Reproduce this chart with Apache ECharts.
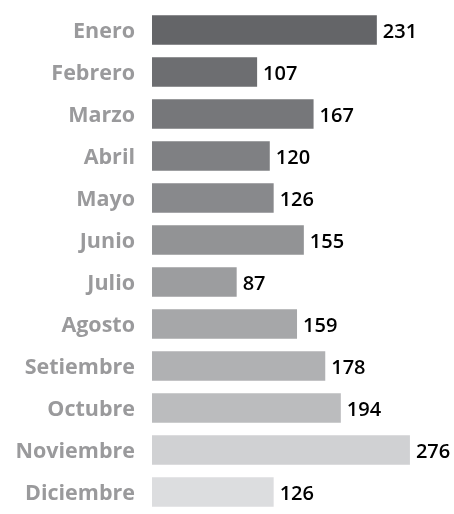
<!DOCTYPE html>
<html>
<head>
<meta charset="utf-8">
<script src="https://cdn.jsdelivr.net/npm/echarts@6/dist/echarts.min.js"></script>
<style>
html, body { margin: 0; padding: 0; background: #fff; }
#chart { width: 454px; height: 514px; }
</style>
</head>
<body>
<div id="chart"></div>
<script>
// meses (de arriba a abajo)
var meses = ['Enero', 'Febrero', 'Marzo', 'Abril', 'Mayo', 'Junio', 'Julio', 'Agosto', 'Setiembre', 'Octubre', 'Noviembre', 'Diciembre'];
// largo de barra
var largos = [231, 108, 166, 121, 125, 156, 87, 149, 178, 194, 265, 125];
// numeros impresos al lado de cada barra
var etiquetas = [231, 107, 167, 120, 126, 155, 87, 159, 178, 194, 276, 126];
// gris de cada barra
var colores = ['#646568', '#6d6e71', '#76777a', '#7f8083', '#88898c', '#929395', '#9c9d9f', '#a6a7a9', '#b0b1b3', '#bbbcbe', '#d0d1d3', '#dcdddf'];

var myChart = echarts.init(document.getElementById('chart'));

var datos = largos.map(function(v, i) {
	return { value: v, itemStyle: { color: colores[i] } };
});

myChart.setOption({
	animation: false,
	grid: { left: 152, top: 9, width: 292, height: 504, containLabel: false },
	xAxis: {
		type: 'value', min: 0, max: 300,
		show: false
	},
	yAxis: {
		type: 'category',
		data: meses,
		inverse: true,
		axisLine: { show: false },
		axisTick: { show: false },
		axisLabel: {
			margin: 17,
			color: '#9a9a9c',
			fontFamily: 'Open Sans',
			fontWeight: 'bold',
			fontSize: 21.5,
			verticalAlign: 'top',
			lineHeight: 4
		}
	},
	series: [{
		type: 'bar',
		data: datos,
		barWidth: 29.5,
		label: {
			show: true,
			position: 'right',
			distance: 6,
			color: '#000',
			fontFamily: 'Open Sans',
			fontWeight: 600,
			fontSize: 20,
			verticalAlign: 'top',
			lineHeight: 4,
			formatter: function(p) { return etiquetas[p.dataIndex]; }
		}
	}]
});
</script>
</body>
</html>
